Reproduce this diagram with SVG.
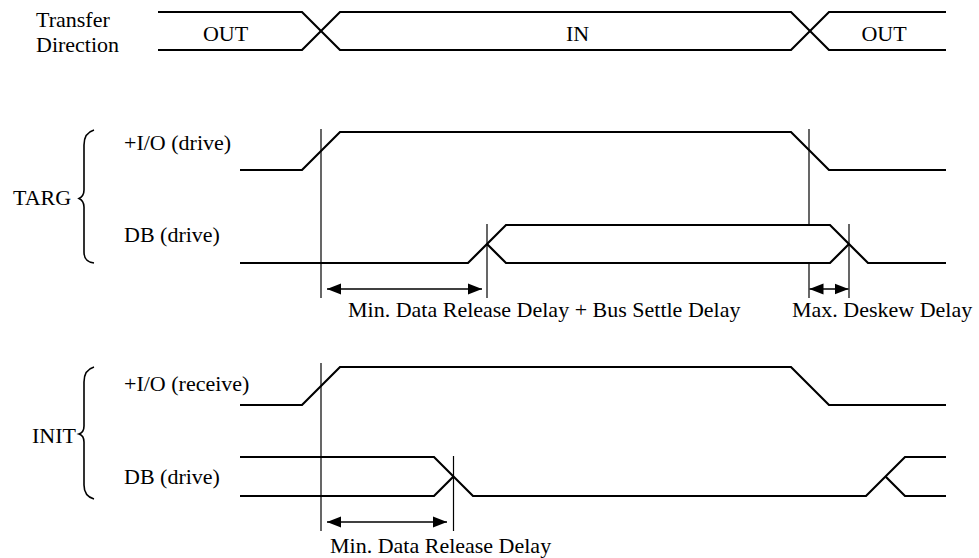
<svg xmlns="http://www.w3.org/2000/svg" width="979" height="558" viewBox="0 0 979 558">
<style>
.sig{fill:none;stroke:#000;stroke-width:2.2;stroke-linejoin:miter}
.thin{fill:none;stroke:#000;stroke-width:1.2}
.arr{fill:none;stroke:#000;stroke-width:1.6;marker-start:url(#ah);marker-end:url(#ah)}
.br{fill:none;stroke:#000;stroke-width:1.6}
text{font-family:"Liberation Serif","Times New Roman",serif;font-size:22px;fill:#000}
.c{text-anchor:middle}
</style>
<defs>
<marker id="ah" markerUnits="userSpaceOnUse" markerWidth="14" markerHeight="12" refX="14" refY="6" orient="auto-start-reverse">
<path d="M0,0.5 L14,6 L0,11.5 z" fill="#000"/>
</marker>
</defs>
<g id="transfer-direction">
<text x="36" y="27">Transfer</text>
<text x="36" y="52">Direction</text>
<path class="sig" d="M158,12 H302 L340,50 H791 L829,12 H946"/>
<path class="sig" d="M158,50 H302 L340,12 H791 L829,50 H946"/>
<text class="c" x="225.5" y="40.5">OUT</text>
<text class="c" x="577.5" y="40.5">IN</text>
<text class="c" x="884" y="40.5">OUT</text>
</g>
<g id="targ">
<text x="13" y="205">TARG</text>
<path class="br" d="M94,130 C87,132 84,137 84,145 L84,190 C84,195 82,197 79,198.5 C82,200 84,202 84,207 L84,252 C84,259 87,262 94,263"/>
</g>
<g id="targ-io">
<text x="124" y="150">+I/O (drive)</text>
<path class="sig" d="M240,170 H302 L340,132 H791 L829,170 H946"/>
</g>
<g id="targ-db">
<text x="124" y="242">DB (drive)</text>
<path class="sig" d="M240,263 H468 L506,225 H830 L868,263 H946"/>
<path class="sig" d="M487,244 L506,263 H830 L849,244"/>
</g>
<g id="init">
<text x="32" y="443">INIT</text>
<path class="br" d="M94,367 C87,369 84,374 84,382 L84,426 C84,431 82,433 79,434 C82,435 84,437 84,442 L84,485 C84,493 87,497 94,499"/>
</g>
<g id="init-io">
<text x="124" y="391">+I/O (receive)</text>
<path class="sig" d="M240,405 H302 L340,367 H791 L829,405 H946"/>
</g>
<g id="init-db">
<text x="124" y="484">DB (drive)</text>
<path class="sig" d="M240,457 H434 L473,496 H866 L905,457 H946"/>
<path class="sig" d="M240,496 H434 L453.5,476.5 M885.5,476.5 L905,496 H946"/>
</g>
<g id="connectors">
<line class="thin" x1="321" y1="129" x2="321" y2="298"/>
<line class="thin" x1="487" y1="224" x2="487" y2="298"/>
<line class="thin" x1="809" y1="129" x2="809" y2="225"/>
<line class="thin" x1="809" y1="263" x2="809" y2="298"/>
<line class="thin" x1="849" y1="224" x2="849" y2="298"/>
<line class="thin" x1="321" y1="363" x2="321" y2="531"/>
<line class="thin" x1="453.5" y1="456" x2="453.5" y2="531"/>
<line class="arr" x1="327" y1="289" x2="482" y2="289"/>
<line class="arr" x1="809.5" y1="289" x2="848.5" y2="289"/>
<line class="arr" x1="327" y1="522" x2="447" y2="522"/>
<text x="348" y="317">Min. Data Release Delay + Bus Settle Delay</text>
<text x="792" y="317">Max. Deskew Delay</text>
<text x="330" y="553">Min. Data Release Delay</text>
</g>
</svg>
